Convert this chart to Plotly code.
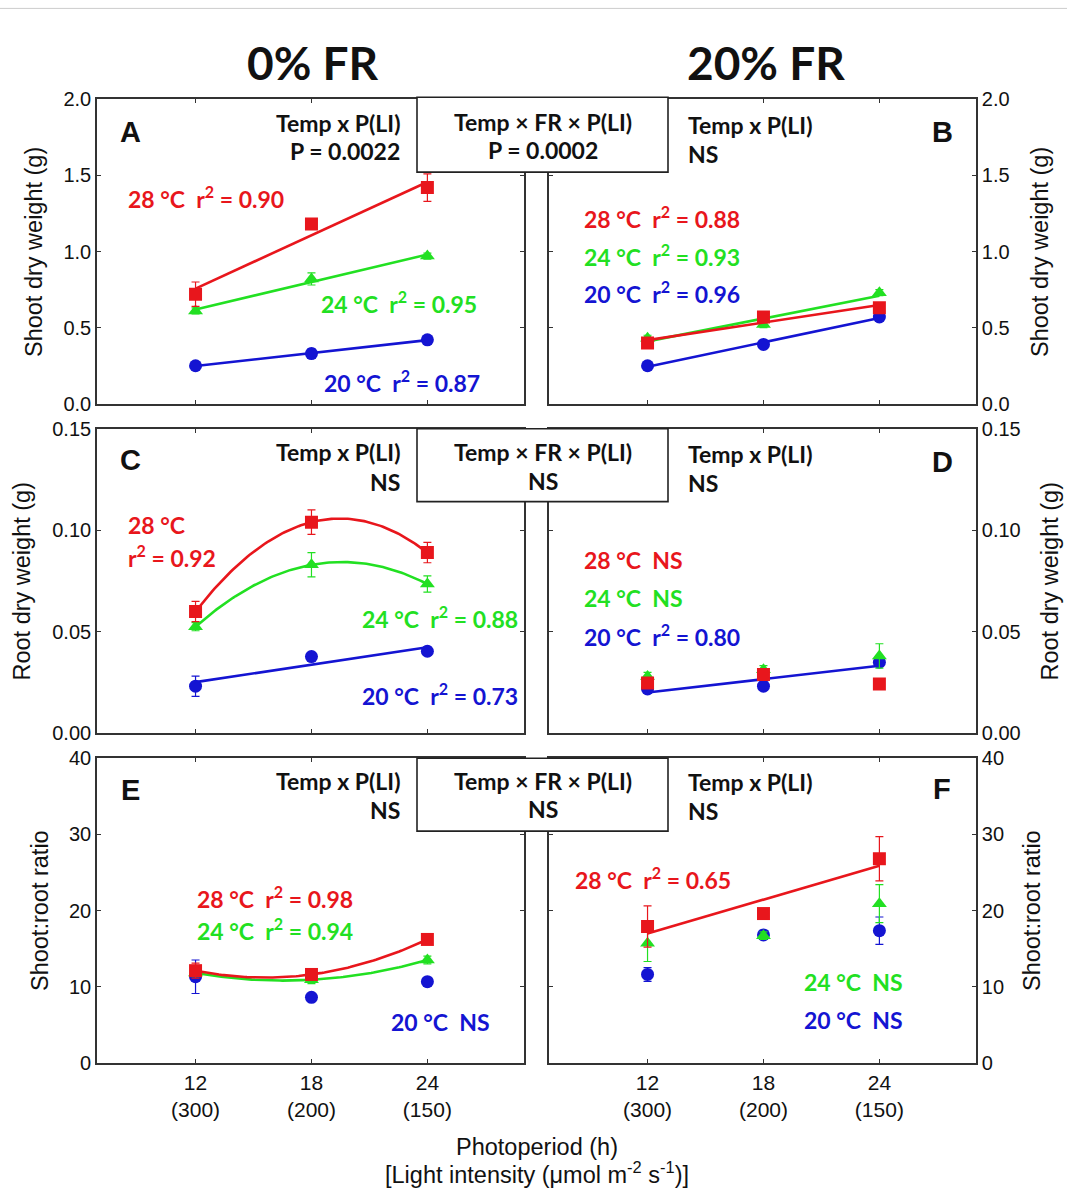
import numpy as np
import plotly.graph_objects as go

W, H = 1067, 1189

# ---------------- data ----------------
x_vals = [12, 18, 24]
x_ticktext = ["12<br>(300)", "18<br>(200)", "24<br>(150)"]
temps = ["28 °C", "24 °C", "20 °C"]

# Shoot dry weight (g)
A_28 = [0.72, 1.18, 1.42]; A_28_err = [0.08, 0.02, 0.09]
A_24 = [0.61, 0.82, 0.97]; A_24_err = [0.02, 0.04, 0.02]
A_20 = [0.25, 0.33, 0.42]; A_20_err = [0.02, 0.03, 0.02]
B_28 = [0.40, 0.57, 0.63]; B_28_err = [0.02, 0.02, 0.03]
B_24 = [0.43, 0.52, 0.73]; B_24_err = [0.02, 0.02, 0.02]
B_20 = [0.25, 0.39, 0.57]; B_20_err = [0.02, 0.02, 0.02]
# Root dry weight (g)
C_28 = [0.060, 0.104, 0.089]; C_28_err = [0.005, 0.006, 0.005]
C_24 = [0.0525, 0.083, 0.0735]; C_24_err = [0.002, 0.006, 0.004]
C_20 = [0.0232, 0.0378, 0.0404]; C_20_err = [0.005, 0.002, 0.002]
D_28 = [0.0248, 0.0289, 0.0243]; D_28_err = [0.002, 0.002, 0.002]
D_24 = [0.028, 0.0313, 0.0381]; D_24_err = [0.002, 0.002, 0.006]
D_20 = [0.0218, 0.0232, 0.035]; D_20_err = [0.001, 0.002, 0.002]
# Shoot:root ratio
E_28 = [12.1, 11.6, 16.2]; E_28_err = [1.0, 0.5, 0.5]
E_24 = [11.8, 10.9, 13.5]; E_24_err = [0.5, 0.5, 0.5]
E_20 = [11.3, 8.6, 10.65]; E_20_err = [2.2, 0.5, 0.5]
F_28 = [17.9, 19.6, 26.8]; F_28_err = [2.7, 0.5, 2.9]
F_24 = [15.7, 16.7, 20.9]; F_24_err = [2.4, 0.5, 2.5]
F_20 = [11.6, 16.8, 17.35]; F_20_err = [0.9, 0.6, 1.8]

# regression degree per series (None = no significant fit)
fit_deg = {
    "A": [1, 1, 1], "B": [1, 1, 1], "C": [2, 2, 1],
    "D": [None, None, 1], "E": [2, 2, None], "F": [1, None, None],
}
panel_data = {
    "A": [(A_28, A_28_err), (A_24, A_24_err), (A_20, A_20_err)],
    "B": [(B_28, B_28_err), (B_24, B_24_err), (B_20, B_20_err)],
    "C": [(C_28, C_28_err), (C_24, C_24_err), (C_20, C_20_err)],
    "D": [(D_28, D_28_err), (D_24, D_24_err), (D_20, D_20_err)],
    "E": [(E_28, E_28_err), (E_24, E_24_err), (E_20, E_20_err)],
    "F": [(F_28, F_28_err), (F_24, F_24_err), (F_20, F_20_err)],
}

# ---------------- style ----------------
RED, GREEN, BLUE = "#E8161C", "#22E022", "#1414D2"
colors = [RED, GREEN, BLUE]
symbols = ["square", "triangle-up", "circle"]
BOLD = "Lato, 'Open Sans', sans-serif"
ARIAL = "Arial, 'Liberation Sans', sans-serif"

def fx(p):
    return p / W

def fy(p):
    # vertical pixel (from top) -> paper fraction
    return 1 - (p - 8.6) / 1168.8

col_dom = [[fx(97), fx(524)], [fx(549), fx(976)]]
row_dom = [[fy(402), fy(97)], [fy(732), fy(427)], [fy(1062), fy(757)]]
y_ranges = [[0, 2.0], [0, 0.15], [0, 40]]
y_dtick = [0.5, 0.05, 10]
y_fmt = [".1f", ".2f", "d"]
x_range = [6.9, 29.0]

panels = [["A", "B"], ["C", "D"], ["E", "F"]]

fig = go.Figure()
layout = {}
k = 0
for r in range(3):
    for c in range(2):
        k += 1
        name = panels[r][c]
        xa = "x" if k == 1 else f"x{k}"
        ya = "y" if k == 1 else f"y{k}"
        xkey = "xaxis" if k == 1 else f"xaxis{k}"
        ykey = "yaxis" if k == 1 else f"yaxis{k}"
        layout[xkey] = dict(
            domain=col_dom[c], anchor=ya, range=x_range,
            tickvals=x_vals, ticktext=x_ticktext,
            showticklabels=(r == 2), ticks="inside", ticklen=4,
            tickcolor="#333", showline=True, linecolor="#333", linewidth=1.6,
            mirror="ticks", showgrid=False, zeroline=False,
            tickfont=dict(family=ARIAL, size=21, color="#111"),
        )
        layout[ykey] = dict(
            domain=row_dom[r], anchor=xa, range=y_ranges[r],
            dtick=y_dtick[r], tick0=0, tickformat=y_fmt[r],
            side="left" if c == 0 else "right",
            ticks="inside", ticklen=4, tickcolor="#333",
            showline=True, linecolor="#333", linewidth=1.6, mirror="ticks",
            showgrid=False, zeroline=False,
            tickfont=dict(family=ARIAL, size=20, color="#111"),
        )
        # traces: draw blue, green, red
        for i in [2, 1, 0]:
            vals, err = panel_data[name][i]
            deg = fit_deg[name][i]
            if deg is not None:
                coef = np.polyfit(x_vals, vals, deg)
                xs = np.linspace(12, 24, 100)
                fig.add_trace(go.Scatter(
                    x=xs, y=np.polyval(coef, xs), mode="lines",
                    line=dict(color=colors[i], width=2.6),
                    xaxis=xa, yaxis=ya, showlegend=False, hoverinfo="skip"))
            fig.add_trace(go.Scatter(
                x=x_vals, y=vals, mode="markers",
                marker=dict(symbol=symbols[i], size=13, color=colors[i],
                            line=dict(width=0)),
                error_y=dict(type="data", array=err, visible=True,
                             thickness=1.2, width=4, color=colors[i]),
                xaxis=xa, yaxis=ya, showlegend=False))

annotations = []

def txt(text, x, y, size=23, color="#111", anchor="left", family=BOLD, bold=True, angle=0):
    t = f"<b>{text}</b>" if bold else text
    annotations.append(dict(
        text=t, x=fx(x), y=fy(y), xref="paper", yref="paper",
        xanchor=anchor, yanchor="middle", showarrow=False, textangle=angle,
        font=dict(family=family, size=size, color=color)))

R2 = "r<sup>2</sup> = "

# column titles
txt("0% FR", 313, 60, size=46, anchor="center")
txt("20% FR", 766, 60, size=46, anchor="center")

# Panel letters
for (lab, x, y) in [("A", 130, 130), ("B", 942, 130), ("C", 130, 458),
                    ("D", 942, 460), ("E", 130, 789), ("F", 942, 788)]:
    txt(lab, x, y, size=29, anchor="center", family=ARIAL)

# Row 1
txt("Temp x P(LI)", 402, 121, anchor="right")
txt("P = 0.0022", 402, 149, anchor="right")
txt("Temp × FR × P(LI)", 543, 120, anchor="center")
txt("P = 0.0002", 543, 148, anchor="center")
txt("Temp x P(LI)", 686, 123)
txt("NS", 686, 152)
txt("28 °C  " + R2 + "0.90", 126, 195, color=RED)
txt("24 °C  " + R2 + "0.95", 319, 301, color=GREEN)
txt("20 °C  " + R2 + "0.87", 322, 380, color=BLUE)
txt("28 °C  " + R2 + "0.88", 582, 215, color=RED)
txt("24 °C  " + R2 + "0.93", 582, 253, color=GREEN)
txt("20 °C  " + R2 + "0.96", 582, 291, color=BLUE)

# Row 2
txt("Temp x P(LI)", 402, 450, anchor="right")
txt("NS", 402, 480, anchor="right")
txt("Temp × FR × P(LI)", 543, 450, anchor="center")
txt("NS", 543, 479, anchor="center")
txt("Temp x P(LI)", 686, 452)
txt("NS", 686, 481)
txt("28 °C", 126, 523, color=RED)
txt(R2 + "0.92", 126, 555, color=RED)
txt("24 °C  " + R2 + "0.88", 360, 616, color=GREEN)
txt("20 °C  " + R2 + "0.73", 360, 693, color=BLUE)
txt("28 °C  NS", 582, 558, color=RED)
txt("24 °C  NS", 582, 597, color=GREEN)
txt("20 °C  " + R2 + "0.80", 582, 634, color=BLUE)

# Row 3
txt("Temp x P(LI)", 402, 780, anchor="right")
txt("NS", 402, 809, anchor="right")
txt("Temp × FR × P(LI)", 543, 780, anchor="center")
txt("NS", 543, 808, anchor="center")
txt("Temp x P(LI)", 686, 781)
txt("NS", 686, 810)
txt("28 °C  " + R2 + "0.98", 195, 896, color=RED)
txt("24 °C  " + R2 + "0.94", 195, 929, color=GREEN)
txt("20 °C  NS", 389, 1021, color=BLUE)
txt("28 °C  " + R2 + "0.65", 573, 877, color=RED)
txt("24 °C  NS", 802, 981, color=GREEN)
txt("20 °C  NS", 802, 1019, color=BLUE)

# Axis titles
AT = 23.5
txt("Shoot dry weight (g)", 34, 250, size=AT, family=ARIAL, bold=False, anchor="center", angle=-90)
txt("Root dry weight (g)", 22, 580, size=AT, family=ARIAL, bold=False, anchor="center", angle=-90)
txt("Shoot:root ratio", 40, 910, size=AT, family=ARIAL, bold=False, anchor="center", angle=-90)
txt("Shoot dry weight (g)", 1040, 250, size=AT, family=ARIAL, bold=False, anchor="center", angle=-90)
txt("Root dry weight (g)", 1050, 580, size=AT, family=ARIAL, bold=False, anchor="center", angle=-90)
txt("Shoot:root ratio", 1032, 910, size=AT, family=ARIAL, bold=False, anchor="center", angle=-90)
txt("Photoperiod (h)", 537, 1146, size=AT, family=ARIAL, bold=False, anchor="center")
txt("[Light intensity (μmol m<sup>-2</sup> s<sup>-1</sup>)]", 537, 1172, size=AT,
    family=ARIAL, bold=False, anchor="center")

# Boxes for three-way interaction
shapes = [dict(type="line", xref="paper", yref="paper", x0=0, x1=1,
               y0=fy(6), y1=fy(6), line=dict(color="#cccccc", width=1))]
for (y0, y1) in [(95, 170), (427, 500), (757, 830)]:
    shapes.append(dict(type="rect", xref="paper", yref="paper",
                       x0=fx(417), x1=fx(668), y0=fy(y1), y1=fy(y0),
                       fillcolor="white", line=dict(color="#222", width=1.6),
                       layer="above"))

fig.update_layout(
    width=W, height=H, margin=dict(l=0, r=0, t=0, b=0),
    paper_bgcolor="white", plot_bgcolor="white",
    showlegend=False, annotations=annotations, shapes=shapes,
    **layout,
)

fig.write_html(
    "out.html",
    post_script="document.body.style.margin='0';"
                "document.documentElement.style.overflow='hidden';",
)
